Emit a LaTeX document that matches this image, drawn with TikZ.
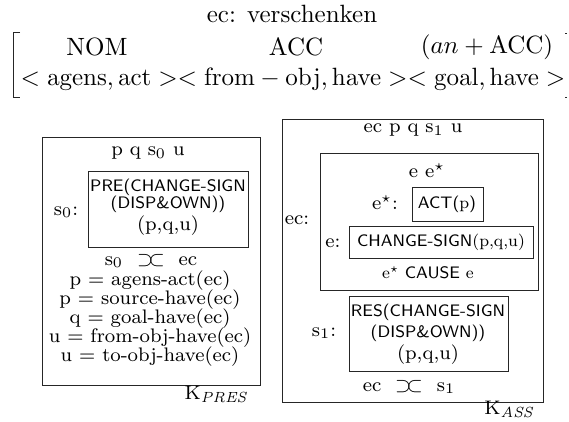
\documentclass[tikz,border=0pt]{standalone}
\newcommand{\abut}{\ensuremath{\supset\mkern-4mu\subset}}
\begin{document}
\begin{tikzpicture}[x=1pt,y=-1pt,
  big/.style={inner sep=0pt, font=\fontsize{10}{12}\selectfont, scale=2.5, transform shape},
  rm/.style={inner sep=0pt, font=\fontsize{8}{9}\selectfont, scale=2.45, transform shape},
  sf/.style={inner sep=0pt, font=\fontsize{8}{9}\selectfont\sffamily, scale=2.08, transform shape},
  frame/.style={draw=black!85, line width=0.8pt}]
\useasboundingbox (0,0) rectangle (569,421);
% header
\node[big] (title) at (292,14) {ec: verschenken};
\node[big] (nom) at (97,47) {NOM};
\node[big] (acc) at (296,47) {ACC};
\node[big] (anacc) at (487,47) {$(an+\mathrm{ACC})$};
\node[big] (roles) at (293,79) {$<\mathrm{agens,act}><\mathrm{from-obj,have}><\mathrm{goal,have}>$};
\draw[frame] (20,32) -- (13,32) -- (13,97) -- (20,97);
\draw[frame] (565,33) -- (567,33);
\draw[frame] (565,97) -- (567,97);
% left box
\draw[frame] (42,137) rectangle (260,385);
\node[rm] (lvars) at (148,153) {p q s$_0$ u};
\node[rm] (s0lab) at (66,212) {s$_0$:};
\draw[frame] (88,171) rectangle (248,247);
\node[sf] (pre1) at (168,187) {PRE(CHANGE-SIGN};
\node[sf] (pre2) at (168,204) {(DISP\&OWN))};
\node[rm] (pre3) at (168,226) {(p,q,u)};
\node[rm] (l1) at (151,261) {s$_0$\ \ \abut\ \ ec};
\node[rm] (l2) at (150,281) {p $=$ agens-act(ec)};
\node[rm] (l3) at (150,300) {p $=$ source-have(ec)};
\node[rm] (l4) at (150,319) {q $=$ goal-have(ec)};
\node[rm] (l5) at (150,338) {u $=$ from-obj-have(ec)};
\node[rm] (l6) at (150,357) {u $=$ to-obj-have(ec)};
\node[rm] (kpres) at (217,394) {K$_{\mathit{PRES}}$};
% right box
\draw[frame] (282,119) rectangle (543,402);
\node[rm] (rvars) at (413,130) {ec p q s$_1$ u};
\node[rm] (eclab) at (297,220) {ec:};
\draw[frame] (320,153) rectangle (538,290);
\node[rm] (evars) at (427,171) {e e$^\star$};
\node[rm] (estlab) at (385,203) {e$^\star$:};
\draw[frame] (412,187) rectangle (483,221);
\node[sf] (act) at (447,204) {ACT(\textrm{p})};
\node[rm] (elab) at (333,243) {e:};
\draw[frame] (349,226) rectangle (533,258);
\node[sf] (chg) at (441,242) {CHANGE-SIGN\textrm{(p,q,u)}};
\node[sf] (cause) at (428,273) {\textrm{e$^\star$} CAUSE \textrm{e}};
\node[rm] (s1lab) at (324,333) {s$_1$:};
\draw[frame] (349,296) rectangle (508,371);
\node[sf] (res1) at (428,312) {RES(CHANGE-SIGN};
\node[sf] (res2) at (428,333) {(DISP\&OWN))};
\node[rm] (res3) at (428,355) {(p,q,u)};
\node[rm] (r1) at (409,387) {ec\ \ \abut\ \ s$_1$};
\node[rm] (kass) at (510,409) {K$_{\mathit{ASS}}$};
\end{tikzpicture}
\end{document}
